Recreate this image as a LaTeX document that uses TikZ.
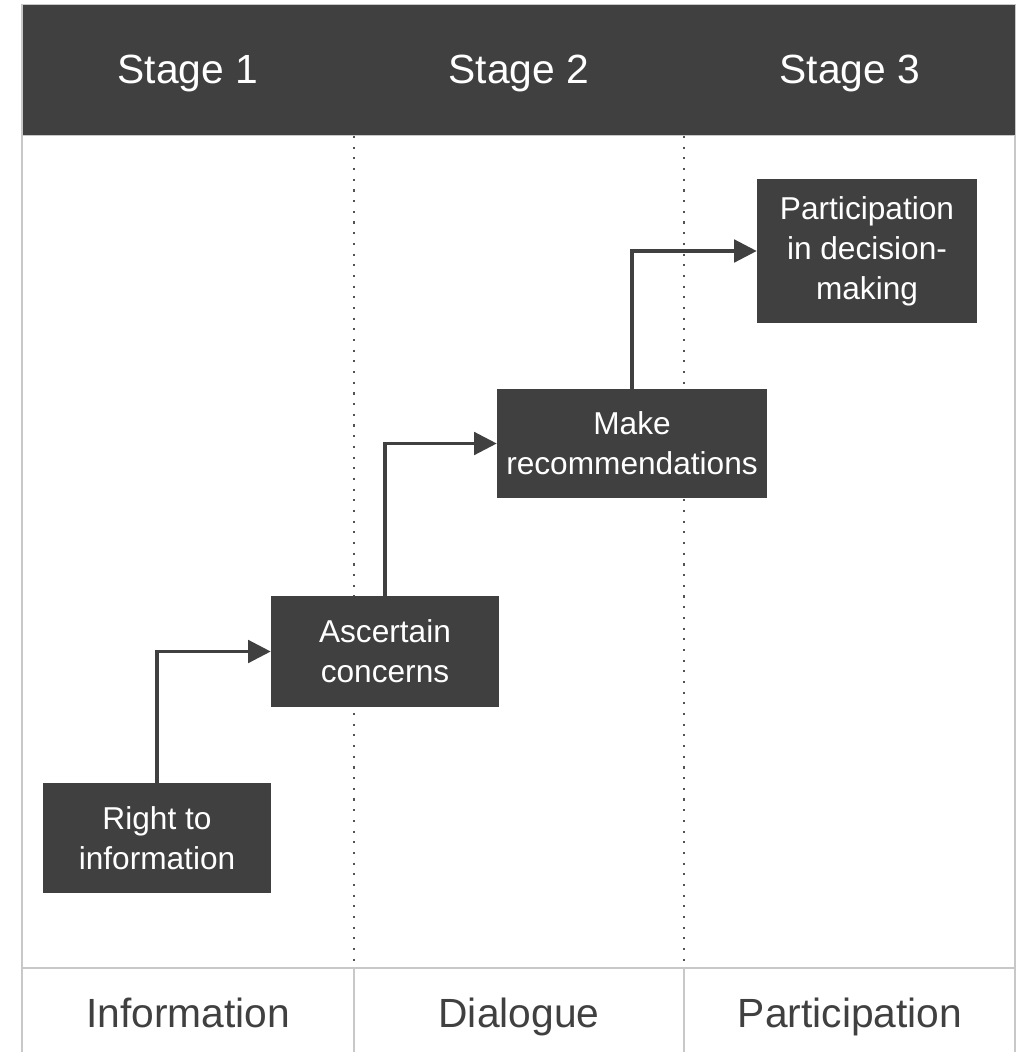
\documentclass[tikz,border=0pt]{standalone}
\usepackage{fontspec}
\setmainfont{Liberation Sans}
\usetikzlibrary{arrows.meta}
\definecolor{darkgray}{HTML}{404040}
\definecolor{framegray}{HTML}{C8C8C8}
\tikzset{
    phasebox/.style={fill=darkgray, text=white, align=center, inner sep=0pt, font=\fontsize{22.5}{28.5}\selectfont},
    uparrow/.style={draw=darkgray, line width=2.3pt, -{Triangle[length=16pt,width=16pt]}},
    stagelabel/.style={text=white, anchor=base, font=\fontsize{29}{34}\selectfont},
    bottomlabel/.style={text=darkgray, anchor=base, font=\fontsize{29}{34}\selectfont},
    divider/.style={draw=darkgray!90, line width=1.5pt, dash pattern=on 1.5pt off 6.1pt}
}
\begin{document}
\begin{tikzpicture}[x=0.25mm, y=-0.25mm]
    \useasboundingbox (0,0) rectangle (1025,1052);

    % frame and header
    \draw[framegray, line width=1.4pt] (22,4) -- (22,1052);
    \draw[framegray, line width=1.4pt] (1015,4) -- (1015,1052);
    \draw[framegray, line width=1.4pt] (22,968) -- (1015,968);
    \draw[framegray, line width=1.4pt] (354,968) -- (354,1052);
    \draw[framegray, line width=1.4pt] (684,968) -- (684,1052);
    \draw[framegray, fill=darkgray] (22,4) rectangle (1015,135);

    % dotted column dividers
    \draw[divider] (354,136) -- (354,967);
    \draw[divider] (684,136) -- (684,967);

    \node[stagelabel] (s1) at (188,83) {Stage 1};
    \node[stagelabel] (s2) at (519,83) {Stage 2};
    \node[stagelabel] (s3) at (850,83) {Stage 3};

    \node[bottomlabel] (info) at (188,1027) {Information};
    \node[bottomlabel] (dial) at (519,1027) {Dialogue};
    \node[bottomlabel] (part) at (850,1027) {Participation};

    % steps
    \node[phasebox, minimum width=57mm, minimum height=27.5mm] (right) at (157,838) {Right to\\information};
    \node[phasebox, minimum width=57mm, minimum height=27.75mm] (ascertain) at (385,651.5) {Ascertain\\concerns};
    \node[phasebox, minimum width=67.5mm, minimum height=27.25mm] (recommend) at (632,443.5) {Make\\recommendations};
    \node[phasebox, minimum width=55mm, minimum height=36mm] (decide) at (867,251) {Participation\\in decision-\\making};

    \draw[uparrow] (right.north) |- (ascertain.west);
    \draw[uparrow] (ascertain.north) |- (recommend.west);
    \draw[uparrow] (recommend.north) |- (decide.west);
\end{tikzpicture}
\end{document}
